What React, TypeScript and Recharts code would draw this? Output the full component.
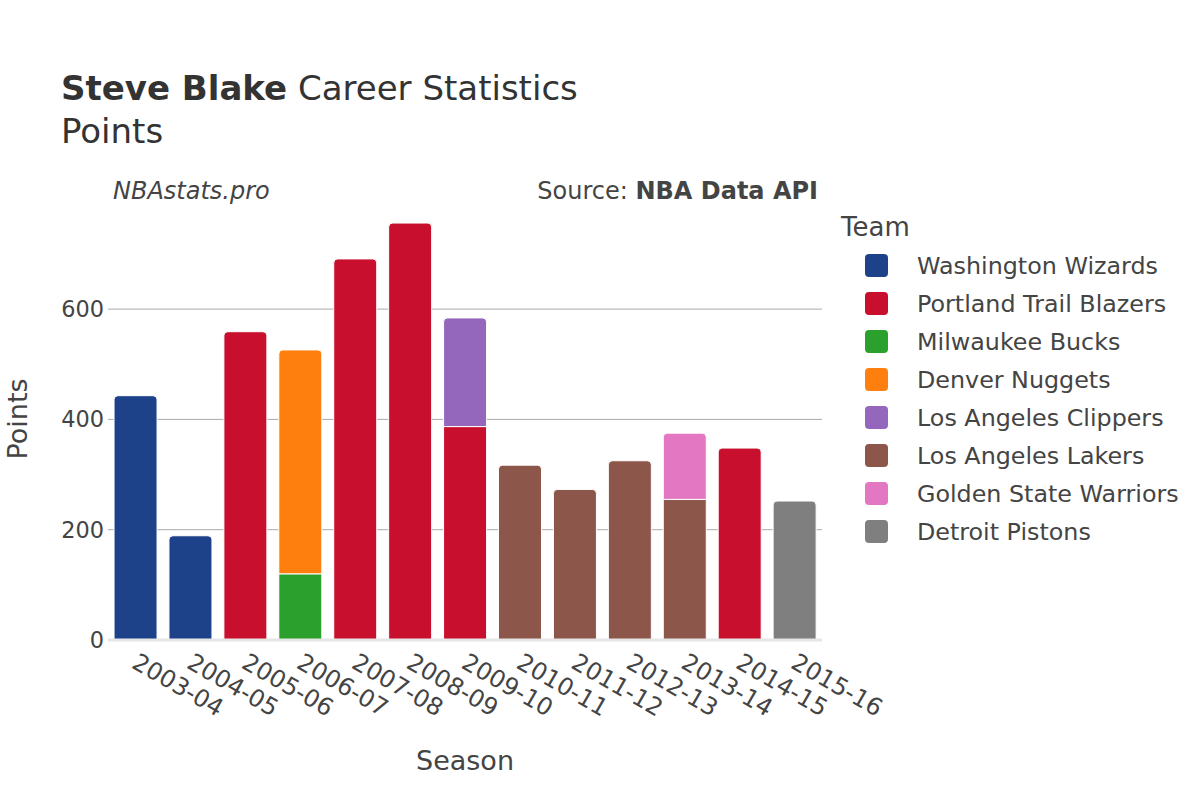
import React from "react";
import {
    BarChart,
    Bar,
    XAxis,
    YAxis,
    CartesianGrid,
    ReferenceLine,
    Legend,
    Rectangle,
} from "recharts";

const seasons = [
    "2003-04", "2004-05", "2005-06", "2006-07", "2007-08", "2008-09", "2009-10",
    "2010-11", "2011-12", "2012-13", "2013-14", "2014-15", "2015-16",
];

const teams = [
    "Washington Wizards",
    "Portland Trail Blazers",
    "Milwaukee Bucks",
    "Denver Nuggets",
    "Los Angeles Clippers",
    "Los Angeles Lakers",
    "Golden State Warriors",
    "Detroit Pistons",
];

const teamColors = [
    "#1d428a", "#c8102e", "#2ca02c", "#ff7f0e",
    "#9467bd", "#8c564b", "#e377c2", "#7f7f7f",
];

// points per season, null = did not play for that team
const washington = [443, 189, null, null, null, null, null, null, null, null, null, null, null];
const portland = [null, null, 559, null, 691, 756, 387, null, null, null, null, 348, null];
const milwaukee = [null, null, null, 120, null, null, null, null, null, null, null, null, null];
const denver = [null, null, null, 406, null, null, null, null, null, null, null, null, null];
const clippers = [null, null, null, null, null, null, 197, null, null, null, null, null, null];
const lakers = [null, null, null, null, null, null, null, 317, 273, 325, 255, null, null];
const warriors = [null, null, null, null, null, null, null, null, null, null, 120, null, null];
const detroit = [null, null, null, null, null, null, null, null, null, null, null, null, 252];

const teamPoints = [washington, portland, milwaukee, denver, clippers, lakers, warriors, detroit];

const yTicks = [0, 200, 400, 600];

const data = seasons.map((season, i) => {
    const row: any = { season };
    teams.forEach((t, k) => {
        row[t] = teamPoints[k][i];
    });
    return row;
});

// which team sits on top of each stack (gets the rounded corners)
const topTeam = seasons.map((_, i) => {
    let top = "";
    teams.forEach((t, k) => {
        if (teamPoints[k][i]) top = t;
    });
    return top;
});

const FONT = "DejaVu Sans";

const makeShape = (team: string) => (props: any) => {
    const { x, y, width, height, fill, index } = props;
    const rounded = topTeam[index] === team;
    return (
        <Rectangle
            x={x}
            y={y}
            width={width}
            height={height}
            fill={fill}
            stroke="#ffffff"
            strokeWidth={1}
            radius={rounded ? [4, 4, 0, 0] : 0}
        />
    );
};

const SeasonTick = ({ x, y, payload }: any) => (
    <text
        transform={`translate(${x - 5},${y + 27}) rotate(30)`}
        fontSize={24}
        fill="#444"
        fontFamily={FONT}
        textAnchor="start"
    >
        {payload.value}
    </text>
);

const TeamLegend = () => (
    <svg width={360} height={350} style={{ fontFamily: FONT }}>
        <text x={11} y={31} fontSize={26} fill="#444">
            Team
        </text>
        {teams.map((t, k) => (
            <g key={t}>
                <rect x={35} y={49 + k * 38} width={23} height={23} rx={4} fill={teamColors[k]} />
                <text x={87} y={69 + k * 38} fontSize={23.8} fill="#444">
                    {t}
                </text>
            </g>
        ))}
    </svg>
);

export default function App() {
    return (
        <div
            style={{
                position: "absolute",
                left: 0,
                top: 0,
                width: 1200,
                height: 800,
                background: "#fff",
                fontFamily: FONT,
            }}
        >
            <BarChart
                width={1200}
                height={800}
                data={data}
                margin={{ top: 201, right: 378, left: 8, bottom: 100 }}
                barCategoryGap="11%"
            >
                <CartesianGrid
                    vertical={false}
                    horizontalValues={yTicks}
                    stroke="#aaaaaa"
                    strokeWidth={1}
                />
                <XAxis
                    dataKey="season"
                    height={60}
                    tickLine={false}
                    axisLine={false}
                    tickSize={0}
                    tickMargin={0}
                    interval={0}
                    tick={<SeasonTick />}
                />
                <YAxis
                    width={100}
                    domain={[0, 796]}
                    ticks={yTicks}
                    tickLine={false}
                    axisLine={false}
                    tickSize={0}
                    tickMargin={4}
                    tick={{ fontSize: 22.4, fill: "#444", fontFamily: FONT }}
                />
                <Legend
                    layout="vertical"
                    align="center"
                    verticalAlign="middle"
                    wrapperStyle={{ position: "absolute", left: 830, top: 205, width: 360, height: 350 }}
                    content={() => <TeamLegend />}
                />
                {teams.map((t, k) => (
                    <Bar
                        key={t}
                        dataKey={t}
                        stackId="a"
                        fill={teamColors[k]}
                        isAnimationActive={false}
                        shape={makeShape(t)}
                    />
                ))}
                <ReferenceLine y={0} stroke="#e6e6e6" strokeWidth={3} />
            </BarChart>
            <svg
                width={1200}
                height={800}
                style={{ position: "absolute", left: 0, top: 0, pointerEvents: "none" }}
                fontFamily={FONT}
            >
                <text x={61} y={100} fontSize={34} fill="#333">
                    <tspan fontWeight="bold">Steve Blake</tspan>
                    <tspan> Career Statistics</tspan>
                </text>
                <text x={61} y={143} fontSize={34} fill="#333">
                    Points
                </text>
                <text x={113} y={199} fontSize={24} fontStyle="italic" fill="#444">
                    NBAstats.pro
                </text>
                <text x={818} y={199} fontSize={24} textAnchor="end" fill="#444">
                    <tspan>Source: </tspan>
                    <tspan fontWeight="bold">NBA Data API</tspan>
                </text>
                <text transform="translate(27,419) rotate(-90)" fontSize={27} textAnchor="middle" fill="#444">
                    Points
                </text>
                <text x={465} y={770} fontSize={27} textAnchor="middle" fill="#444">
                    Season
                </text>
            </svg>
        </div>
    );
}
